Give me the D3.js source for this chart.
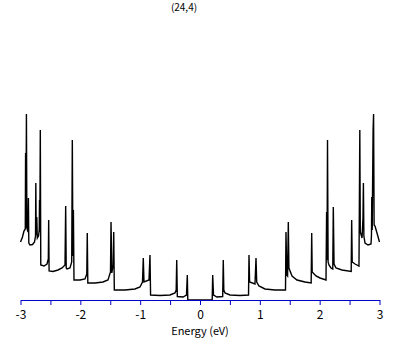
<!DOCTYPE html>
<html>
<head>
<meta charset="utf-8">
<script src="https://cdn.jsdelivr.net/npm/d3@7"></script>
<style>
  body { margin: 0; background: #fff; }
  svg text { font-family: "Noto Sans CJK JP", "DejaVu Sans", sans-serif; }
</style>
</head>
<body>
<div id="chart"></div>
<script>
// Title and axis labels
const chartTitle = "(24,4)";
const xLabel = "Energy (eV)";

// x ticks (every 0.5, labels only on whole numbers)
const xTicks = [-3, -2.5, -2, -1.5, -1, -0.5, 0, 0.5, 1, 1.5, 2, 2.5, 3];

// DOS curve, energy in eV
const energy = [
  -3.000, -2.967, -2.942, -2.920, -2.915, -2.910, -2.901, -2.893, -2.875, -2.868,
  -2.861, -2.841, -2.799, -2.766, -2.749, -2.744, -2.738, -2.728, -2.719, -2.699,
  -2.687, -2.682, -2.677, -2.669, -2.661, -2.607, -2.557, -2.535, -2.529, -2.522,
  -2.457, -2.373, -2.306, -2.256, -2.245, -2.236, -2.223, -2.173, -2.144, -2.134,
  -2.124, -2.116, -2.106, -2.006, -1.922, -1.892, -1.884, -1.875, -1.755, -1.621,
  -1.538, -1.496, -1.487, -1.474, -1.451, -1.442, -1.432, -1.253, -1.086, -1.003,
  -0.961, -0.948, -0.936, -0.852, -0.836, -0.826, -0.669, -0.501, -0.418, -0.398,
  -0.389, -0.379, -0.284, -0.226, -0.212, -0.204, 0.000,
  0.204, 0.212, 0.226, 0.284, 0.379, 0.389, 0.398, 0.418, 0.501, 0.669,
  0.811, 0.819, 0.829, 0.919, 0.936, 0.948, 0.986, 1.086, 1.253, 1.429,
  1.437, 1.451, 1.464, 1.476, 1.486, 1.538, 1.621, 1.755, 1.858, 1.867,
  1.875, 1.939, 2.006, 2.106, 2.116, 2.123, 2.131, 2.141, 2.156, 2.189,
  2.219, 2.228, 2.240, 2.273, 2.373, 2.527, 2.535, 2.544, 2.591, 2.657,
  2.664, 2.671, 2.679, 2.708, 2.724, 2.731, 2.739, 2.758, 2.808, 2.858,
  2.866, 2.871, 2.878, 2.893, 2.901, 2.910, 2.925, 2.958, 3.000
];

// density of states (arbitrary units)
const dos = [
  58, 63, 69, 71, 147, 72, 186, 72, 68, 102,
  57, 55, 55.5, 58, 64, 117, 65, 83, 62, 64,
  70, 100, 68, 170, 35, 34, 36, 41, 80, 29,
  28.5, 30, 32, 35, 94, 32, 31, 32, 38, 160,
  44, 90, 20, 20, 21, 26, 67, 17, 17, 18,
  20, 28, 78, 27, 35, 68, 10, 10, 11, 13,
  18, 42, 18, 20, 45, 5, 4.5, 5, 7, 10,
  40, 3.5, 3, 5, 25, 0, 0,
  0, 25, 5, 3, 3.5, 40, 10, 7, 5, 4.5,
  5, 45, 18, 16, 42, 18, 14, 11, 10, 10,
  68, 25, 24, 78, 32, 24, 20, 18, 17, 67,
  28, 24, 22, 20, 88, 40, 160, 38, 35, 32,
  31, 93, 36, 32, 30, 28.5, 80, 38, 36, 34,
  100, 170, 68, 62, 82, 117, 64, 57, 55, 56,
  65, 103, 70, 170, 186, 75, 74, 67, 58
];

const width = 409, height = 345;

const svg = d3.select("#chart").append("svg")
  .attr("width", width)
  .attr("height", height);

const x = d3.scaleLinear()
  .domain([-3, 3])
  .range([20.5, 379.5]);

const y = d3.scaleLinear()
  .domain([0, 200])
  .range([300, 100]);

// title
svg.append("text")
  .attr("x", 184)
  .attr("y", 11)
  .attr("text-anchor", "middle")
  .style("font-size", "10px")
  .text(chartTitle);

// curve
const points = energy.map((e, i) => ({ e: e, v: dos[i] }));

const lineGen = d3.line()
  .x(d => x(d.e))
  .y(d => y(d.v));

svg.append("path")
  .datum(points)
  .attr("fill", "none")
  .attr("stroke", "#000")
  .attr("stroke-width", 1.4)
  .attr("stroke-linejoin", "miter")
  .attr("d", lineGen);

// x axis
const xAxis = svg.append("g")
  .attr("transform", "translate(0,300)")
  .call(d3.axisBottom(x)
    .tickValues(xTicks)
    .tickSize(5)
    .tickSizeOuter(0)
    .tickFormat(d => Number.isInteger(d) ? String(d) : ""));

xAxis.select(".domain").attr("stroke", "#0000c8").attr("stroke-width", 1.2);
xAxis.selectAll(".tick line").attr("stroke", "#0000c8").attr("stroke-width", 1);
xAxis.selectAll(".tick text")
  .attr("fill", "#000")
  .attr("dy", "0.95em")
  .style("font-size", "12px")
  .style("font-family", "'Noto Sans CJK JP', sans-serif");

// x label
svg.append("text")
  .attr("x", 200)
  .attr("y", 335)
  .attr("text-anchor", "middle")
  .style("font-size", "11px")
  .text(xLabel);
</script>
</body>
</html>
